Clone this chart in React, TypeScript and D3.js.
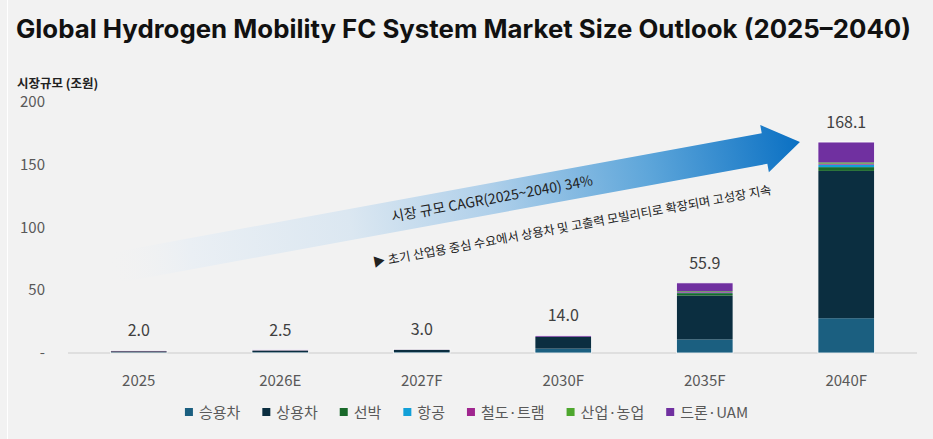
import { useEffect, useRef } from "react";
import { select, scaleLinear, scaleBand, stack } from "d3";

const WIDTH = 933;
const HEIGHT = 439;

const title = "Global Hydrogen Mobility FC System Market Size Outlook (2025–2040)";
const yLabel = "시장규모 (조원)";
const categories = ["2025", "2026E", "2027F", "2030F", "2035F", "2040F"];
const seriesNames = ["승용차", "상용차", "선박", "항공", "철도·트램", "산업·농업", "드론·UAM"];
const seriesColors = ["#1b5f80", "#0b2e40", "#19692a", "#12a0d8", "#a0268f", "#4ea72e", "#7030a0"];
// 시리즈별 값 (조원)
const passengerCar = [0.4, 0.5, 0.6, 3.5, 10.8, 27.7];
const commercialVehicle = [0.9, 1.4, 1.9, 9.3, 35.0, 117.4];
const ship = [0.1, 0.1, 0.1, 0.1, 1.9, 3.0];
const aviation = [0.0, 0.0, 0.0, 0.0, 0.4, 2.0];
const railTram = [0.2, 0.1, 0.1, 0.1, 0.5, 0.8];
const industryAgri = [0.1, 0.1, 0.1, 0.0, 0.6, 1.0];
const droneUam = [0.3, 0.3, 0.2, 1.0, 6.7, 16.2];
const totals = [2.0, 2.5, 3.0, 14.0, 55.9, 168.1];
const yTicks = [0, 50, 100, 150, 200];
const cagrText = "시장 규모 CAGR(2025~2040) 34%";
const noteText = "▶ 초기 산업용 중심 수요에서 상용차 및 고출력 모빌리티로 확장되며 고성장 지속";

const FONT = "'Noto Sans CJK KR', 'Noto Sans', sans-serif";

const drawChart = (node: SVGSVGElement) => {
  const svg = select(node);
  svg.selectAll("*").remove();

  const marginLeft = 68,
    marginRight = 16;
  const y = scaleLinear([0, 200], [353, 102]);
  const x = scaleBand(categories, [marginLeft, WIDTH - marginRight])
    .paddingInner(0.6)
    .paddingOuter(0.3);

  // 배경
  svg.append("rect").attr("width", WIDTH).attr("height", HEIGHT).attr("fill", "#f2f2f2");
  svg
    .append("line")
    .attr("x1", 7.5)
    .attr("x2", 7.5)
    .attr("y1", 0)
    .attr("y2", HEIGHT)
    .attr("stroke", "#ffffff")
    .attr("stroke-width", 1);

  // 제목
  svg
    .append("text")
    .text(title)
    .attr("x", 16)
    .attr("y", 38)
    .attr("font-family", "Inter, 'Noto Sans', sans-serif")
    .attr("font-weight", 700)
    .attr("font-size", 25)
    .attr("textLength", 895)
    .attr("lengthAdjust", "spacingAndGlyphs")
    .attr("fill", "#111");

  // y축 단위
  svg
    .append("text")
    .text(yLabel)
    .attr("x", 17)
    .attr("y", 88)
    .attr("font-family", FONT)
    .attr("font-weight", 700)
    .attr("font-size", 12.5)
    .attr("fill", "#222");

  // y축 눈금
  svg
    .append("g")
    .selectAll("text")
    .data(yTicks)
    .enter()
    .append("text")
    .text((d) => (d === 0 ? "-" : String(d)))
    .attr("x", 45)
    .attr("y", (d) => y(d) + 5)
    .attr("text-anchor", "end")
    .attr("font-family", FONT)
    .attr("font-size", 15)
    .attr("fill", "#595959");

  // 화살표 (CAGR)
  const tail: [number, number] = [x.range()[0] + 40, y(67)];
  const tip: [number, number] = [(x("2040F") as number) - 18, y(totals[5])];
  const dx = tip[0] - tail[0];
  const dy = tip[1] - tail[1];
  const len = Math.sqrt(dx * dx + dy * dy);
  const angle = (Math.atan2(dy, dx) * 180) / Math.PI;
  const headLen = 36,
    shaftHalf = 15.5,
    headHalf = 24;

  const defs = svg.append("defs");
  const grad = defs
    .append("linearGradient")
    .attr("id", "arrowGrad")
    .attr("gradientUnits", "userSpaceOnUse")
    .attr("x1", 0)
    .attr("x2", len)
    .attr("y1", 0)
    .attr("y2", 0);
  [
    [0, "#f2f2f2", 0],
    [0.12, "#eaeff4", 1],
    [0.35, "#dbe7f1", 1],
    [0.55, "#b0d0ea", 1],
    [0.78, "#5ea6da", 1],
    [1, "#0a70c3", 1],
  ].forEach(([o, c, op]) => {
    grad
      .append("stop")
      .attr("offset", o as number)
      .attr("stop-color", c as string)
      .attr("stop-opacity", op as number);
  });

  const arrowG = svg
    .append("g")
    .attr("transform", `translate(${tail[0]},${tail[1]}) rotate(${angle})`);
  const pts = [
    [0, -shaftHalf],
    [len - headLen, -shaftHalf],
    [len - headLen, -headHalf],
    [len, 0],
    [len - headLen, headHalf],
    [len - headLen, shaftHalf],
    [0, shaftHalf],
  ];
  arrowG
    .append("polygon")
    .attr("points", pts.map((p) => p.join(",")).join(" "))
    .attr("fill", "url(#arrowGrad)");
  arrowG
    .append("text")
    .text(cagrText)
    .attr("x", len * 0.555)
    .attr("y", 5)
    .attr("text-anchor", "middle")
    .attr("font-family", FONT)
    .attr("font-size", 14)
    .attr("fill", "#222");
  arrowG
    .append("text")
    .text(noteText)
    .attr("x", len * 0.66)
    .attr("y", 46)
    .attr("text-anchor", "middle")
    .attr("font-family", FONT)
    .attr("font-size", 12.3)
    .attr("fill", "#222");

  // 축 기준선
  svg
    .append("line")
    .attr("x1", x.range()[0])
    .attr("x2", x.range()[1])
    .attr("y1", y(0))
    .attr("y2", y(0))
    .attr("stroke", "#d9d9d9")
    .attr("stroke-width", 1.5);

  // 누적 막대
  const seriesValues = [passengerCar, commercialVehicle, ship, aviation, railTram, industryAgri, droneUam];
  const rows = categories.map((c, i) => {
    const row: { [k: string]: number | string } = { category: c };
    seriesNames.forEach((s, j) => {
      row[s] = seriesValues[j][i];
    });
    return row;
  });
  const stacked = stack<any>().keys(seriesNames)(rows);

  const barsG = svg.append("g");
  stacked.forEach((layer, j) => {
    barsG
      .append("g")
      .attr("fill", seriesColors[j])
      .selectAll("rect")
      .data(layer)
      .enter()
      .append("rect")
      .attr("x", (d: any) => x(d.data.category) as number)
      .attr("y", (d: any) => y(d[1]))
      .attr("width", x.bandwidth())
      .attr("height", (d: any) => Math.max(0, y(d[0]) - y(d[1])));
  });
  // 막대 외곽선
  barsG
    .append("g")
    .selectAll("rect")
    .data(categories)
    .enter()
    .append("rect")
    .attr("x", (d) => x(d) as number)
    .attr("y", (d, i) => y(totals[i]))
    .attr("width", x.bandwidth())
    .attr("height", (d, i) => y(0) - y(totals[i]))
    .attr("fill", "none")
    .attr("stroke", "#ffffff")
    .attr("stroke-width", 0.8);

  // 합계 라벨
  svg
    .append("g")
    .selectAll("text")
    .data(totals)
    .enter()
    .append("text")
    .text((d) => d.toFixed(1))
    .attr("x", (d, i) => (x(categories[i]) as number) + x.bandwidth() / 2)
    .attr("y", (d) => y(d) - 14)
    .attr("text-anchor", "middle")
    .attr("font-family", FONT)
    .attr("font-size", 16)
    .attr("fill", "#404040");

  // x축 라벨
  svg
    .append("g")
    .selectAll("text")
    .data(categories)
    .enter()
    .append("text")
    .text((d) => d)
    .attr("x", (d) => (x(d) as number) + x.bandwidth() / 2)
    .attr("y", 386)
    .attr("text-anchor", "middle")
    .attr("font-family", FONT)
    .attr("font-size", 15)
    .attr("fill", "#595959");

  // 범례
  const legendG = svg.append("g");
  const sq = 8,
    sqGap = 6,
    itemGap = 22;
  let cursor = 0;
  seriesNames.forEach((name, j) => {
    const item = legendG.append("g").attr("transform", `translate(${cursor},0)`);
    item
      .append("rect")
      .attr("x", 0)
      .attr("y", -sq / 2)
      .attr("width", sq)
      .attr("height", sq)
      .attr("fill", seriesColors[j]);
    const t = item
      .append("text")
      .text(name)
      .attr("x", sq + sqGap)
      .attr("y", 5.5)
      .attr("font-family", FONT)
      .attr("font-size", 15)
      .attr("fill", "#595959");
    const w = (t.node() as SVGTextElement).getComputedTextLength();
    cursor += sq + sqGap + w + itemGap;
  });
  const totalW = cursor - itemGap;
  legendG.attr("transform", `translate(${(WIDTH - totalW) / 2},412)`);
};

const App = () => {
  const ref = useRef<SVGSVGElement>(null);
  useEffect(() => {
    if (ref.current) drawChart(ref.current);
  }, []);
  return (
    <svg
      ref={ref}
      width={WIDTH}
      height={HEIGHT}
      style={{ position: "absolute", left: 0, top: 0, display: "block" }}
    />
  );
};

export default App;
